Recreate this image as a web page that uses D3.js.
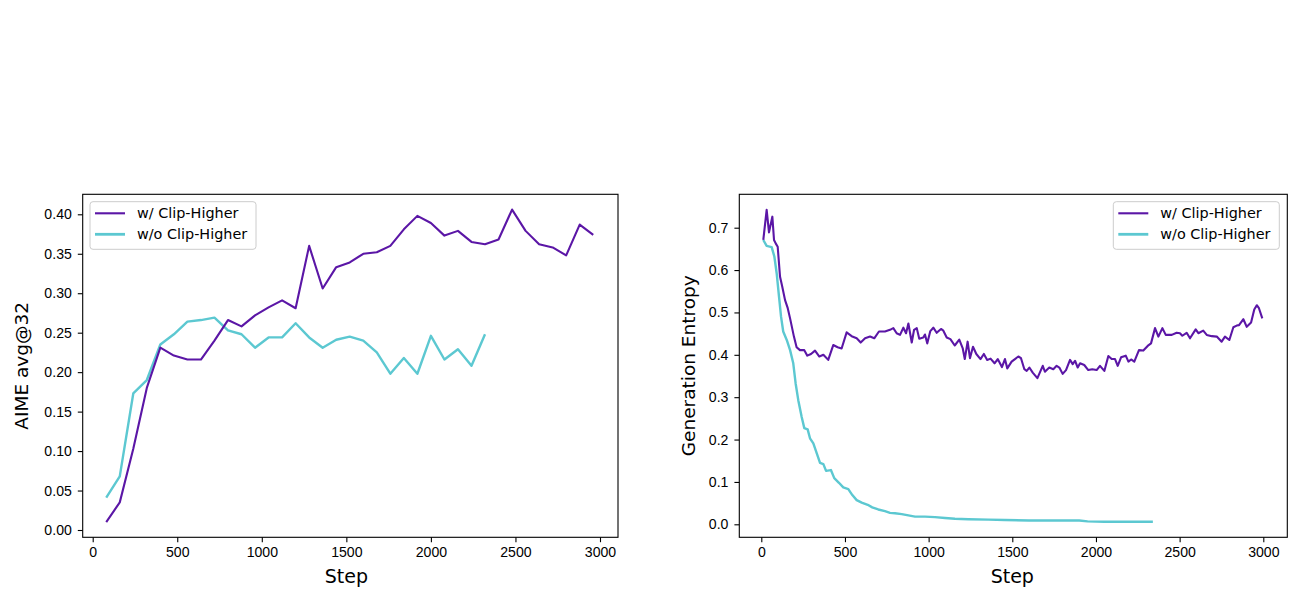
<!DOCTYPE html>
<html>
<head>
<meta charset="utf-8">
<script src="https://cdn.jsdelivr.net/npm/d3@7"></script>
<style>
  body { margin: 0; background: #fff; }
  svg { font-family: "DejaVu Sans", sans-serif; }
  .tick text { font-size: 14.1px; fill: #000; }
  .tick line { stroke: #000; stroke-width: 1.1px; }
</style>
</head>
<body>
<div id="chart-area"></div>
<script>
// colours
var purple = "#5b16a6",
  cyan = "#5cc8d1";

var legendNames = ["w/ Clip-Higher", "w/o Clip-Higher"];

// Left panel: AIME avg@32
var aimeStepsW = [80, 160, 240, 320, 400, 480, 560, 640, 720, 800, 880, 960, 1040, 1120, 1200,
  1280, 1360, 1440, 1520, 1600, 1680, 1760, 1840, 1920, 2000, 2080, 2160, 2240, 2320, 2400,
  2480, 2560, 2640, 2720, 2800, 2880, 2960];
var aimeW = [0.010, 0.035, 0.103, 0.180, 0.231, 0.221, 0.216, 0.216, 0.240, 0.266, 0.258, 0.272,
  0.282, 0.291, 0.281, 0.360, 0.306, 0.333, 0.339, 0.350, 0.352, 0.360, 0.381, 0.398, 0.389,
  0.373, 0.379, 0.365, 0.362, 0.368, 0.406, 0.379, 0.362, 0.358, 0.348, 0.387, 0.374];

var aimeStepsWo = [80, 160, 240, 320, 400, 480, 560, 640, 720, 800, 880, 960, 1040, 1120, 1200,
  1280, 1360, 1440, 1520, 1600, 1680, 1760, 1840, 1920, 2000, 2080, 2160, 2240, 2320];
var aimeWo = [0.041, 0.068, 0.173, 0.190, 0.235, 0.248, 0.264, 0.266, 0.269, 0.253, 0.248, 0.231,
  0.244, 0.244, 0.262, 0.244, 0.231, 0.241, 0.245, 0.240, 0.225, 0.198, 0.218, 0.198, 0.246,
  0.216, 0.229, 0.208, 0.248];

// Right panel: generation entropy
var entStepsW = [12, 32, 46, 66, 76, 86, 98, 112, 125, 142, 158, 172, 195, 211, 231, 257, 275, 297,
  321, 347, 371, 400, 430, 456, 480, 510, 540, 570, 594, 620, 650, 675, 703, 739, 769, 789, 809,
  829, 849, 865, 879, 899, 913, 929, 944, 968, 978, 992, 1010, 1028, 1048, 1074, 1088, 1108,
  1130, 1156, 1183, 1204, 1216, 1233, 1247, 1265, 1285, 1310, 1330, 1350, 1370, 1394, 1413,
  1438, 1456, 1470, 1496, 1516, 1536, 1552, 1572, 1586, 1602, 1622, 1650, 1682, 1695, 1721,
  1745, 1765, 1781, 1801, 1821, 1845, 1861, 1875, 1891, 1905, 1930, 1954, 1978, 2004, 2024,
  2050, 2074, 2094, 2114, 2130, 2150, 2178, 2194, 2210, 2229, 2257, 2283, 2309, 2329, 2353,
  2373, 2397, 2417, 2453, 2482, 2502, 2516, 2542, 2562, 2596, 2612, 2641, 2662, 2692, 2722,
  2751, 2771, 2797, 2821, 2841, 2855, 2881, 2901, 2927, 2946, 2961, 2974, 2994];
var entW = [0.671, 0.742, 0.689, 0.726, 0.671, 0.663, 0.655, 0.584, 0.561, 0.529, 0.510, 0.486,
  0.443, 0.418, 0.411, 0.411, 0.398, 0.402, 0.410, 0.396, 0.400, 0.388, 0.423, 0.418, 0.415,
  0.453, 0.444, 0.439, 0.429, 0.439, 0.443, 0.439, 0.455, 0.455, 0.459, 0.463, 0.451, 0.447,
  0.464, 0.451, 0.474, 0.429, 0.459, 0.463, 0.438, 0.441, 0.448, 0.427, 0.456, 0.464, 0.452,
  0.461, 0.457, 0.441, 0.437, 0.422, 0.436, 0.415, 0.390, 0.431, 0.392, 0.419, 0.402, 0.390,
  0.402, 0.388, 0.391, 0.380, 0.390, 0.371, 0.390, 0.368, 0.384, 0.390, 0.396, 0.392, 0.366,
  0.362, 0.370, 0.358, 0.345, 0.374, 0.360, 0.370, 0.366, 0.374, 0.370, 0.355, 0.364, 0.388,
  0.378, 0.386, 0.370, 0.380, 0.376, 0.364, 0.366, 0.364, 0.374, 0.362, 0.397, 0.390, 0.390,
  0.374, 0.394, 0.398, 0.384, 0.389, 0.384, 0.411, 0.410, 0.421, 0.427, 0.463, 0.443, 0.463,
  0.447, 0.447, 0.452, 0.451, 0.445, 0.452, 0.439, 0.460, 0.451, 0.457, 0.447, 0.444, 0.443,
  0.431, 0.443, 0.435, 0.465, 0.469, 0.470, 0.484, 0.466, 0.476, 0.507, 0.517, 0.510, 0.486];

var entStepsWo = [12, 32, 62, 78, 92, 106, 118, 131, 152, 172, 191, 205, 221, 241, 257, 277, 291,
  311, 331, 351, 371, 387, 416, 436, 464, 490, 520, 544, 570, 600, 636, 663, 699, 739, 769, 799,
  839, 879, 919, 978, 1038, 1098, 1157, 1237, 1357, 1456, 1600, 1750, 1900, 1950, 2050, 2200, 2340];
var entWo = [0.671, 0.657, 0.654, 0.632, 0.592, 0.537, 0.490, 0.455, 0.435, 0.411, 0.380, 0.333,
  0.293, 0.254, 0.227, 0.224, 0.203, 0.191, 0.168, 0.145, 0.142, 0.126, 0.128, 0.109, 0.098,
  0.087, 0.083, 0.069, 0.057, 0.051, 0.046, 0.040, 0.035, 0.031, 0.027, 0.026, 0.024, 0.021,
  0.018, 0.018, 0.017, 0.015, 0.013, 0.012, 0.011, 0.010, 0.009, 0.009, 0.009, 0.007, 0.006,
  0.006, 0.006];

var xTicks = [0, 500, 1000, 1500, 2000, 2500, 3000];
var aimeTicks = [0, 0.05, 0.10, 0.15, 0.20, 0.25, 0.30, 0.35, 0.40];
var entTicks = [0, 0.1, 0.2, 0.3, 0.4, 0.5, 0.6, 0.7];

var svg = d3.select("#chart-area").append("svg")
  .attr("width", 1300)
  .attr("height", 600);

function zip(xs, ys) {
  return xs.map(function(s, i) { return { step: s, v: ys[i] }; });
}

// one panel
function panel(p) {
  var x = d3.scaleLinear().domain([0, 3000]).range(p.xr);
  var y = d3.scaleLinear().domain(p.yd).range(p.yr);

  var g = svg.append("g");

  // axes
  g.append("g")
    .attr("transform", "translate(0," + p.bottom + ")")
    .call(d3.axisBottom(x).tickValues(xTicks).tickSize(4.9).tickPadding(5.2).tickFormat(d3.format("d")))
    .call(function(a) { a.select(".domain").remove(); });
  g.append("g")
    .attr("transform", "translate(" + p.left + ",0)")
    .call(d3.axisLeft(y).tickValues(p.yTicks).tickSize(4.9).tickPadding(6).tickFormat(d3.format(p.fmt)))
    .call(function(a) { a.select(".domain").remove(); });

  var line = d3.line()
    .x(function(d) { return x(d.step); })
    .y(function(d) { return y(d.v); });

  g.append("path")
    .attr("d", line(p.wo))
    .attr("fill", "none")
    .attr("stroke", cyan)
    .attr("stroke-width", 2.4)
    .attr("stroke-linejoin", "round");
  g.append("path")
    .attr("d", line(p.w))
    .attr("fill", "none")
    .attr("stroke", purple)
    .attr("stroke-width", 2.1)
    .attr("stroke-linejoin", "round");

  // frame
  g.append("rect")
    .attr("x", p.left).attr("y", p.top)
    .attr("width", p.right - p.left).attr("height", p.bottom - p.top)
    .attr("fill", "none").attr("stroke", "#000").attr("stroke-width", 1.1);

  // axis titles
  g.append("text")
    .attr("x", (p.xr[0] + p.xr[1]) / 2)
    .attr("y", 583)
    .attr("text-anchor", "middle")
    .attr("font-size", "19px")
    .text("Step");
  g.append("text")
    .attr("transform", "translate(" + p.yLabelX + "," + ((p.top + p.bottom) / 2) + ") rotate(-90)")
    .attr("text-anchor", "middle")
    .attr("dy", "0.35em")
    .attr("font-size", "18.5px")
    .text(p.yLabel);

  // legend
  var lg = g.append("g").attr("transform", "translate(" + p.legX + ",201.7)");
  lg.append("rect")
    .attr("width", 166).attr("height", 47.6)
    .attr("rx", 3)
    .attr("fill", "#fff").attr("fill-opacity", 0.8)
    .attr("stroke", "#cccccc").attr("stroke-width", 1);
  var colors = [purple, cyan];
  legendNames.forEach(function(name, i) {
    var yy = 11.6 + i * 21;
    lg.append("line")
      .attr("x1", 5).attr("x2", 35)
      .attr("y1", yy).attr("y2", yy)
      .attr("stroke", colors[i])
      .attr("stroke-width", i === 0 ? 2.1 : 2.8);
    lg.append("text")
      .attr("x", 47).attr("y", yy)
      .attr("dy", "0.36em")
      .attr("font-size", "14.4px")
      .text(name);
  });
}

panel({
  xr: [92.7, 600], yd: [0, 0.40], yr: [530, 214.3],
  left: 82.7, right: 618, top: 194.3, bottom: 537.3,
  yTicks: aimeTicks, fmt: ".2f", yLabel: "AIME avg@32", yLabelX: 22,
  legX: 90, w: zip(aimeStepsW, aimeW), wo: zip(aimeStepsWo, aimeWo)
});

panel({
  xr: [761.3, 1263.3], yd: [0, 0.7], yr: [524.3, 227.7],
  left: 739.3, right: 1287.3, top: 194.3, bottom: 537.3,
  yTicks: entTicks, fmt: ".1f", yLabel: "Generation Entropy", yLabelX: 689,
  legX: 1113.3, w: zip(entStepsW, entW), wo: zip(entStepsWo, entWo)
});
</script>
</body>
</html>
